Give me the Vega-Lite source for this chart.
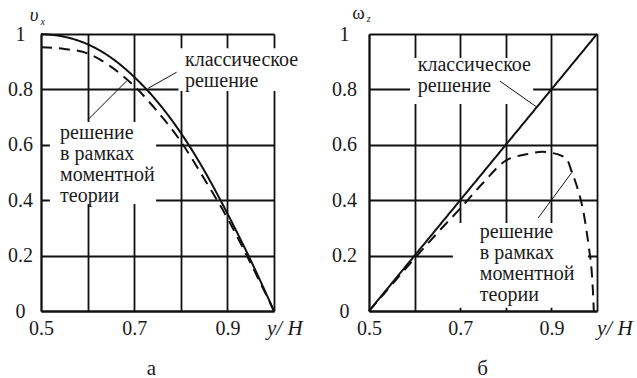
{
  "$schema": "https://vega.github.io/schema/vega-lite/v6.json",
  "background": "white",
  "padding": {"left": 7, "top": 4, "right": 5, "bottom": 5},
  "datasets": {
    "curvesA": [
      {"yh": 0.5, "v": 1.0, "kind": "classical"},
      {"yh": 0.55, "v": 0.99, "kind": "classical"},
      {"yh": 0.6, "v": 0.963, "kind": "classical"},
      {"yh": 0.65, "v": 0.915, "kind": "classical"},
      {"yh": 0.7, "v": 0.845, "kind": "classical"},
      {"yh": 0.75, "v": 0.755, "kind": "classical"},
      {"yh": 0.8, "v": 0.643, "kind": "classical"},
      {"yh": 0.85, "v": 0.508, "kind": "classical"},
      {"yh": 0.9, "v": 0.352, "kind": "classical"},
      {"yh": 0.95, "v": 0.183, "kind": "classical"},
      {"yh": 1.0, "v": 0.0, "kind": "classical"},
      {"yh": 0.5, "v": 0.952, "kind": "moment"},
      {"yh": 0.55, "v": 0.946, "kind": "moment"},
      {"yh": 0.6, "v": 0.93, "kind": "moment"},
      {"yh": 0.65, "v": 0.882, "kind": "moment"},
      {"yh": 0.7, "v": 0.812, "kind": "moment"},
      {"yh": 0.75, "v": 0.72, "kind": "moment"},
      {"yh": 0.8, "v": 0.612, "kind": "moment"},
      {"yh": 0.85, "v": 0.478, "kind": "moment"},
      {"yh": 0.9, "v": 0.335, "kind": "moment"},
      {"yh": 0.95, "v": 0.172, "kind": "moment"},
      {"yh": 1.0, "v": 0.0, "kind": "moment"}
    ],
    "curvesB": [
      {"yh": 0.5, "v": 0.0, "kind": "classical"},
      {"yh": 1.0, "v": 1.0, "kind": "classical"},
      {"yh": 0.5, "v": 0.0, "kind": "moment"},
      {"yh": 0.55, "v": 0.095, "kind": "moment"},
      {"yh": 0.6, "v": 0.19, "kind": "moment"},
      {"yh": 0.65, "v": 0.282, "kind": "moment"},
      {"yh": 0.7, "v": 0.37, "kind": "moment"},
      {"yh": 0.75, "v": 0.462, "kind": "moment"},
      {"yh": 0.8, "v": 0.543, "kind": "moment"},
      {"yh": 0.85, "v": 0.567, "kind": "moment"},
      {"yh": 0.88, "v": 0.575, "kind": "moment"},
      {"yh": 0.9, "v": 0.571, "kind": "moment"},
      {"yh": 0.92, "v": 0.562, "kind": "moment"},
      {"yh": 0.935, "v": 0.545, "kind": "moment"},
      {"yh": 0.945, "v": 0.5, "kind": "moment"},
      {"yh": 0.955, "v": 0.455, "kind": "moment"},
      {"yh": 0.963, "v": 0.41, "kind": "moment"},
      {"yh": 0.97, "v": 0.36, "kind": "moment"},
      {"yh": 0.977, "v": 0.29, "kind": "moment"},
      {"yh": 0.983, "v": 0.22, "kind": "moment"},
      {"yh": 0.988, "v": 0.15, "kind": "moment"},
      {"yh": 0.991, "v": 0.075, "kind": "moment"},
      {"yh": 0.993, "v": 0.0, "kind": "moment"}
    ],
    "masksA": [
      {"x0": 0.795, "x1": 1.06, "y0": 0.949, "y1": 0.794},
      {"x0": 0.519, "x1": 0.747, "y0": 0.682, "y1": 0.386}
    ],
    "masksB": [
      {"x0": 0.59, "x1": 0.86, "y0": 0.913, "y1": 0.747},
      {"x0": 0.684, "x1": 0.98, "y0": 0.318, "y1": 0.012}
    ],
    "leadersA": [
      {"x0": 0.791, "y0": 0.862, "x1": 0.73, "y1": 0.804},
      {"x0": 0.601, "y0": 0.691, "x1": 0.684, "y1": 0.831}
    ],
    "leadersB": [
      {"x0": 0.787, "y0": 0.83, "x1": 0.868, "y1": 0.736},
      {"x0": 0.871, "y0": 0.336, "x1": 0.947, "y1": 0.505}
    ],
    "notesA": [
      {"x": 0.809, "y": 0.884, "t": "классическое\nрешение"},
      {"x": 0.541, "y": 0.621, "t": "решение\nв рамках\nмоментной\nтеории"}
    ],
    "notesB": [
      {"x": 0.607, "y": 0.866, "t": "классическое\nрешение"},
      {"x": 0.743, "y": 0.264, "t": "решение\nв рамках\nмоментной\nтеории"}
    ],
    "symA": [{"x": 0.476, "y": 1.047, "t": "υ"}],
    "subA": [{"x": 0.499, "y": 1.032, "t": "x"}],
    "symB": [{"x": 0.463, "y": 1.054, "t": "ω"}],
    "subB": [{"x": 0.495, "y": 1.043, "t": "z"}],
    "unitA": [{"x": 0.985, "y": -0.087, "t": "y/ H"}],
    "unitB": [{"x": 1.0, "y": -0.087, "t": "y/ H"}]
  },
  "spacing": 95,
  "bounds": "flush",
  "hconcat": [
    {
      "width": 233,
      "height": 277,
      "layer": [
        {
          "data": {"name": "masksA"},
          "mark": {"type": "rect", "fill": "white", "strokeWidth": 0},
          "encoding": {
            "x": {
              "field": "x0", "type": "quantitative",
              "scale": {"domain": [0.5, 1], "nice": false, "zero": false},
              "axis": {
                "values": [0.5, 0.6, 0.7, 0.8, 0.9, 1.0],
                "labelExpr": "indexof(['0.5','0.7','0.9'], format(datum.value, '.1f')) >= 0 ? format(datum.value, '.1f') : ''",
                "labelAlign": "center",
                "labelBaseline": "top",
                "labelPadding": 7,
                "title": "а",
                "titleX": 110,
                "titleY": 63,
                "titleAlign": "center",
                "titleBaseline": "alphabetic"
              }
            },
            "x2": {"field": "x1"},
            "y": {
              "field": "y0", "type": "quantitative",
              "scale": {"domain": [0, 1], "nice": false},
              "axis": {
                "values": [0, 0.2, 0.4, 0.6, 0.8, 1],
                "format": ".1~f",
                "labelAlign": "center",
                "labelBaseline": "middle",
                "labelPadding": 21,
                "title": null
              }
            },
            "y2": {"field": "y1"}
          }
        },
        {
          "data": {"name": "curvesA"},
          "mark": {"type": "line", "interpolate": "monotone", "color": "#111", "strokeWidth": 2},
          "encoding": {
            "x": {"field": "yh", "type": "quantitative"},
            "y": {"field": "v", "type": "quantitative"},
            "detail": {"field": "kind"},
            "strokeDash": {
              "field": "kind", "type": "nominal",
              "scale": {"domain": ["classical", "moment"], "range": [[1, 0], [11, 7]]},
              "legend": null
            }
          }
        },
        {
          "data": {"name": "leadersA"},
          "mark": {"type": "rule", "color": "#111", "strokeWidth": 1},
          "encoding": {
            "x": {"field": "x0", "type": "quantitative"},
            "y": {"field": "y0", "type": "quantitative"},
            "x2": {"field": "x1"},
            "y2": {"field": "y1"}
          }
        },
        {
          "data": {"name": "notesA"},
          "mark": {"type": "text", "align": "left", "baseline": "alphabetic", "font": "Liberation Serif", "fontSize": 20, "lineHeight": 21, "lineBreak": "\n", "color": "#1a1a1a"},
          "encoding": {
            "x": {"field": "x", "type": "quantitative"},
            "y": {"field": "y", "type": "quantitative"},
            "text": {"field": "t"}
          }
        },
        {
          "data": {"name": "symA"},
          "mark": {"type": "text", "align": "left", "baseline": "alphabetic", "font": "Liberation Serif", "fontSize": 19, "fontStyle": "italic", "color": "#1a1a1a"},
          "encoding": {
            "x": {"field": "x", "type": "quantitative"},
            "y": {"field": "y", "type": "quantitative"},
            "text": {"field": "t"}
          }
        },
        {
          "data": {"name": "subA"},
          "mark": {"type": "text", "align": "left", "baseline": "alphabetic", "font": "Liberation Serif", "fontSize": 10, "fontStyle": "italic", "color": "#1a1a1a"},
          "encoding": {
            "x": {"field": "x", "type": "quantitative"},
            "y": {"field": "y", "type": "quantitative"},
            "text": {"field": "t"}
          }
        },
        {
          "data": {"name": "unitA"},
          "mark": {"type": "text", "align": "left", "baseline": "alphabetic", "font": "Liberation Serif", "fontSize": 21, "fontStyle": "italic", "color": "#1a1a1a"},
          "encoding": {
            "x": {"field": "x", "type": "quantitative"},
            "y": {"field": "y", "type": "quantitative"},
            "text": {"field": "t"}
          }
        }
      ]
    },
    {
      "width": 228,
      "height": 277,
      "layer": [
        {
          "data": {"name": "masksB"},
          "mark": {"type": "rect", "fill": "white", "strokeWidth": 0},
          "encoding": {
            "x": {
              "field": "x0", "type": "quantitative",
              "scale": {"domain": [0.5, 1], "nice": false, "zero": false},
              "axis": {
                "values": [0.5, 0.6, 0.7, 0.8, 0.9, 1.0],
                "labelExpr": "indexof(['0.5','0.7','0.9'], format(datum.value, '.1f')) >= 0 ? format(datum.value, '.1f') : ''",
                "labelAlign": "center",
                "labelBaseline": "top",
                "labelPadding": 7,
                "title": "б",
                "titleX": 113,
                "titleY": 63,
                "titleAlign": "center",
                "titleBaseline": "alphabetic"
              }
            },
            "x2": {"field": "x1"},
            "y": {
              "field": "y0", "type": "quantitative",
              "scale": {"domain": [0, 1], "nice": false},
              "axis": {
                "values": [0, 0.2, 0.4, 0.6, 0.8, 1],
                "format": ".1~f",
                "labelAlign": "center",
                "labelBaseline": "middle",
                "labelPadding": 25,
                "title": null
              }
            },
            "y2": {"field": "y1"}
          }
        },
        {
          "data": {"name": "curvesB"},
          "mark": {"type": "line", "interpolate": "monotone", "color": "#111", "strokeWidth": 2},
          "encoding": {
            "x": {"field": "yh", "type": "quantitative"},
            "y": {"field": "v", "type": "quantitative"},
            "detail": {"field": "kind"},
            "strokeDash": {
              "field": "kind", "type": "nominal",
              "scale": {"domain": ["classical", "moment"], "range": [[1, 0], [11, 7]]},
              "legend": null
            }
          }
        },
        {
          "data": {"name": "leadersB"},
          "mark": {"type": "rule", "color": "#111", "strokeWidth": 1},
          "encoding": {
            "x": {"field": "x0", "type": "quantitative"},
            "y": {"field": "y0", "type": "quantitative"},
            "x2": {"field": "x1"},
            "y2": {"field": "y1"}
          }
        },
        {
          "data": {"name": "notesB"},
          "mark": {"type": "text", "align": "left", "baseline": "alphabetic", "font": "Liberation Serif", "fontSize": 20, "lineHeight": 21, "lineBreak": "\n", "color": "#1a1a1a"},
          "encoding": {
            "x": {"field": "x", "type": "quantitative"},
            "y": {"field": "y", "type": "quantitative"},
            "text": {"field": "t"}
          }
        },
        {
          "data": {"name": "symB"},
          "mark": {"type": "text", "align": "left", "baseline": "alphabetic", "font": "Liberation Serif", "fontSize": 19, "color": "#1a1a1a"},
          "encoding": {
            "x": {"field": "x", "type": "quantitative"},
            "y": {"field": "y", "type": "quantitative"},
            "text": {"field": "t"}
          }
        },
        {
          "data": {"name": "subB"},
          "mark": {"type": "text", "align": "left", "baseline": "alphabetic", "font": "Liberation Serif", "fontSize": 10, "fontStyle": "italic", "color": "#1a1a1a"},
          "encoding": {
            "x": {"field": "x", "type": "quantitative"},
            "y": {"field": "y", "type": "quantitative"},
            "text": {"field": "t"}
          }
        },
        {
          "data": {"name": "unitB"},
          "mark": {"type": "text", "align": "left", "baseline": "alphabetic", "font": "Liberation Serif", "fontSize": 21, "fontStyle": "italic", "color": "#1a1a1a"},
          "encoding": {
            "x": {"field": "x", "type": "quantitative"},
            "y": {"field": "y", "type": "quantitative"},
            "text": {"field": "t"}
          }
        }
      ]
    }
  ],
  "config": {
    "view": {"stroke": null},
    "axis": {
      "labelFont": "Liberation Serif",
      "labelFontSize": 20,
      "labelColor": "#1a1a1a",
      "labelOverlap": false,
      "labelFlush": false,
      "grid": true,
      "gridColor": "#111",
      "gridWidth": 1.8,
      "gridOpacity": 1,
      "domain": true,
      "domainColor": "#111",
      "domainWidth": 1.8,
      "ticks": false,
      "tickSize": 0,
      "titleFont": "Liberation Serif",
      "titleFontSize": 21,
      "titleFontWeight": "normal",
      "titleColor": "#1a1a1a"
    }
  }
}
